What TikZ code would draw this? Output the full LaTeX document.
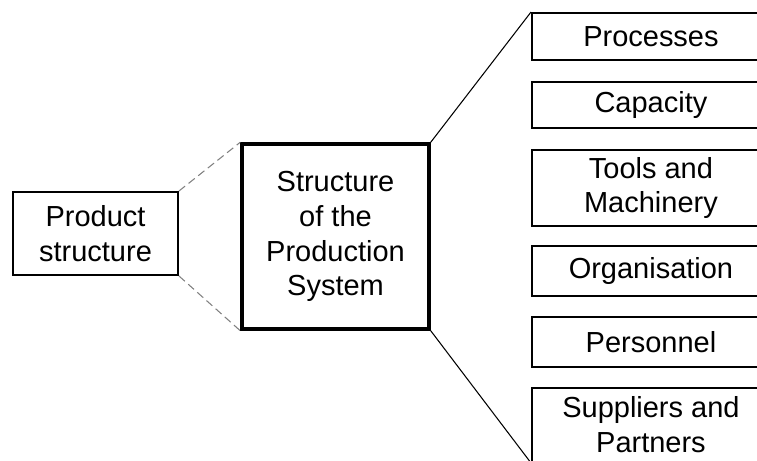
\documentclass[tikz,border=0pt]{standalone}
\usepackage{fontspec}
\setmainfont{Liberation Sans}
\tikzset{
  box/.style={draw, line width=1.1pt, align=center, inner sep=0pt,
    font=\fontsize{16.5}{19.8}\selectfont},
  mainbox/.style={box, line width=2pt},
  sidebox/.style={box, anchor=west, minimum width=4.76cm},
  link/.style={gray, line width=0.6pt, dash pattern=on 4.5pt off 2.5pt},
  fan/.style={black, line width=0.6pt}
}

\begin{document}
\begin{tikzpicture}[x=0.02cm, y=0.02cm]
		\path[use as bounding box, clip] (0,0) rectangle (757,460);
		% left and middle
		\node[box, minimum width=3.3cm, minimum height=1.66cm] (prod) at (95.5,226.5) {Product\\structure};
		\node[mainbox, minimum width=3.74cm, minimum height=3.7cm] (sys) at (335.5,223.5) {Structure\\of the\\Production\\System};
		% right column
		\node[sidebox, minimum height=0.94cm] (proc) at (531,423.5) {Processes};
		\node[sidebox, minimum height=0.92cm] (cap) at (531,355) {Capacity};
		\node[sidebox, minimum height=1.52cm] (tools) at (531,272) {Tools and\\Machinery};
		\node[sidebox, minimum height=1.0cm] (org) at (531,189) {Organisation};
		\node[sidebox, minimum height=1.0cm] (pers) at (531,118) {Personnel};
		\node[sidebox, minimum height=1.48cm] (supp) at (531,35) {Suppliers and\\Partners};
		% connectors
		\draw[link] (prod.north east) -- (sys.north west);
		\draw[link] (prod.south east) -- (sys.south west);
		\draw[fan] (sys.north east) -- (proc.north west);
		\draw[fan] (sys.south east) -- (supp.south west);
	\end{tikzpicture}
\end{document}
